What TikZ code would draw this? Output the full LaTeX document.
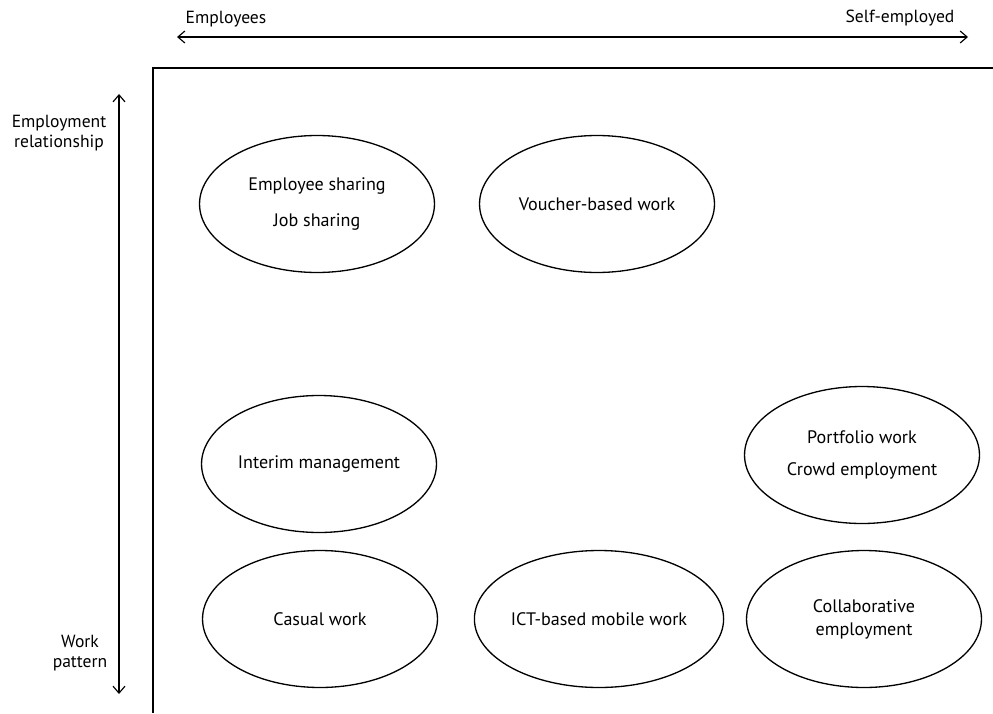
\documentclass[tikz,border=0pt]{standalone}
\usepackage{fontspec}
\setmainfont{PT Sans}
\usetikzlibrary{shapes.geometric,arrows.meta}
\begin{document}
\begin{tikzpicture}[x=0.02cm,y=-0.02cm]
      \tikzstyle{blob}=[draw,ellipse,line width=0.75pt,minimum width=4.7cm,minimum height=2.74cm,inner sep=0pt,align=center,font=\fontsize{10.3}{13}\selectfont]
      \tikzstyle{axis}=[draw,line width=0.65pt,{Straight Barb[length=1.4mm,width=2.4mm]}-{Straight Barb[length=1.4mm,width=2.4mm]}]
      \tikzstyle{axistext}=[align=center,font=\fontsize{10}{11.5}\selectfont]
      \useasboundingbox (0,0) rectangle (993,713);
      \path[draw,line width=0.9pt] (993,68) -- (153,68) -- (153,713);
      \coordinate (L) at (177,37);
      \coordinate (R) at (968,37);
      \coordinate (T) at (119,94);
      \coordinate (B) at (119,694);
      \path[axis] (L) -- (R);
      \path[axis] (T) -- (B);
      \node[axistext] (Emp) at (226,19) {Employees};
      \node[axistext] (Self) at (900,18) {Self-employed};
      \node[axistext] (Rel) at (59,133) {Employment\\relationship};
      \node[axistext] (Pat) at (80,653) {Work\\pattern};
      \node[blob] (Share) at (317,204) {Employee sharing\\[7pt]Job sharing};
      \node[blob] (Voucher) at (597,204) {Voucher-based work};
      \node[blob] (Interim) at (319,464) {Interim management};
      \node[blob] (Portfolio) at (862,455) {Portfolio work\\[5pt]Crowd employment};
      \node[blob] (Casual) at (320,619) {Casual work};
      \node[blob] (ICT) at (599,619) {ICT-based mobile work};
      \node[blob] (Collab) at (864,619) {Collaborative\\employment};
    \end{tikzpicture}
\end{document}
